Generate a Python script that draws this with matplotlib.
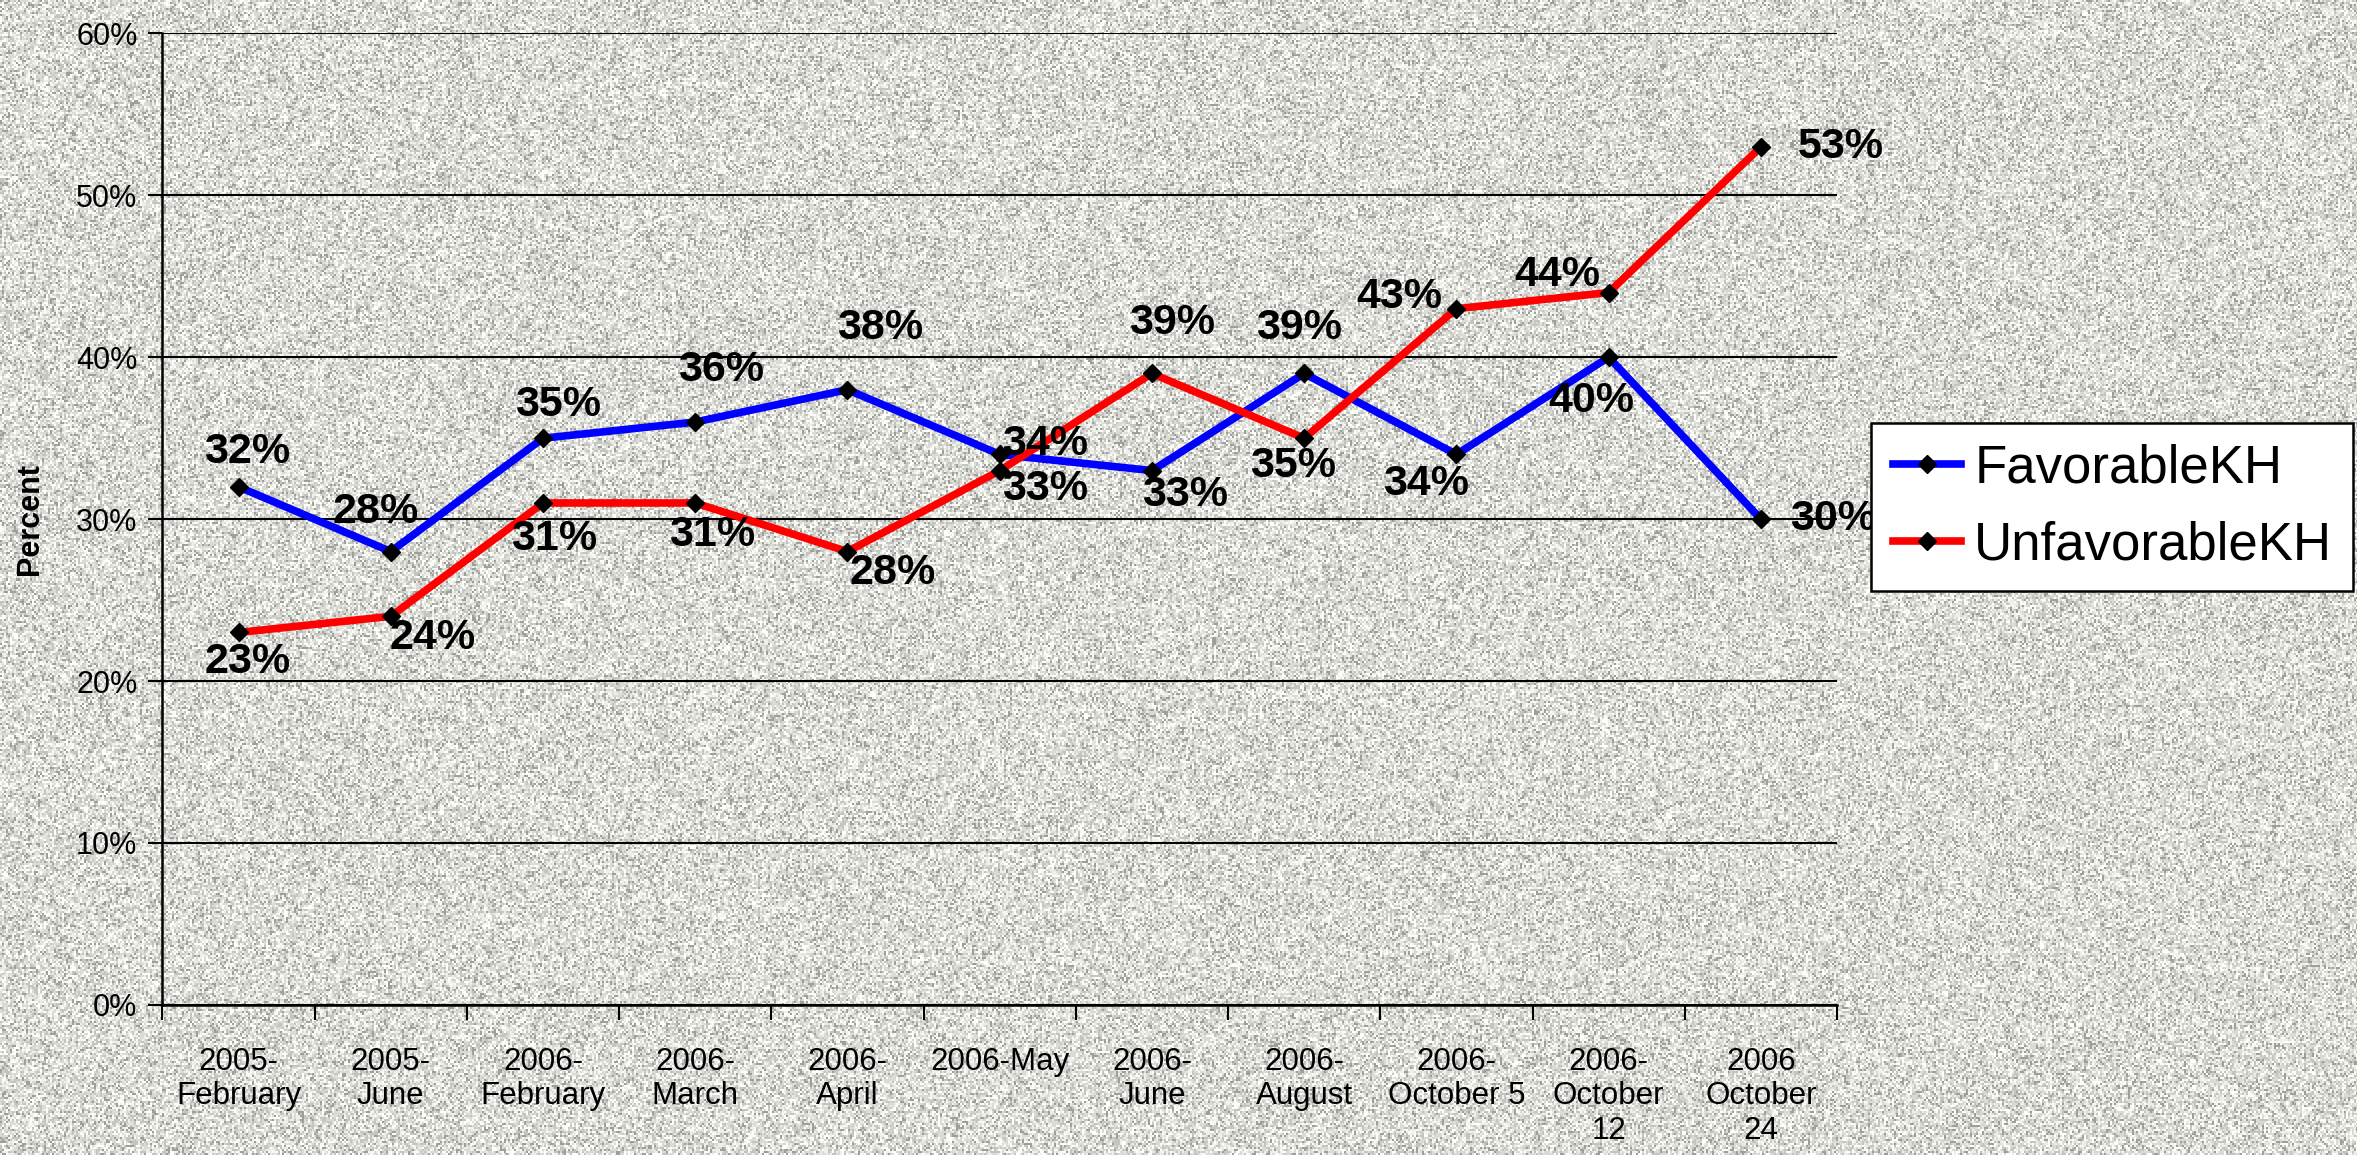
import numpy as np
import matplotlib
matplotlib.use("Agg")
import matplotlib.pyplot as plt

plt.rcParams['font.family'] = ['Liberation Sans', 'DejaVu Sans']

# survey waves
waves = ["2005-\nFebruary", "2005-\nJune", "2006-\nFebruary", "2006-\nMarch",
         "2006-\nApril", "2006-May", "2006-\nJune", "2006-\nAugust",
         "2006-\nOctober 5", "2006-\nOctober\n12", "2006\nOctober\n24"]
favorable = [32, 28, 35, 36, 38, 34, 33, 39, 34, 40, 30]
unfavorable = [23, 24, 31, 31, 28, 33, 39, 35, 43, 44, 53]
y_ticks = [0, 10, 20, 30, 40, 50, 60]

# label offsets (pixels) for the data labels
fav_off = [(9, 35), (-15, 40), (15, 33), (26, 52), (33, 62), (45, 10),
           (33, -24), (-5, 45), (-30, -30), (-17, -44), (72, 0)]
unf_off = [(9, -30), (42, -22), (11, -36), (17, -32), (45, -21), (45, -18),
           (20, 50), (-11, -28), (-57, 12), (-51, 18), (80, 0)]

W, H = 2357, 1155
fig = plt.figure(figsize=(W / 100, H / 100), dpi=100)
fig.patch.set_facecolor("#d6d6d6")

# grey textured backdrop
rng = np.random.default_rng(3)
tex = rng.choice([0.62, 0.77, 0.86, 0.94, 1.0], size=(H // 2, W // 2 + 1),
                 p=[0.12, 0.22, 0.28, 0.2, 0.18])
tex = np.kron(tex, np.ones((2, 2)))[:H, :W]
bg = fig.add_axes([0, 0, 1, 1], zorder=0)
bg.imshow(np.dstack([tex, tex, tex * 0.98]), aspect="auto", interpolation="nearest")
bg.axis("off")

ax = fig.add_axes([0.0689, 0.130, 0.7105, 0.841], zorder=2)
ax.patch.set_alpha(0)

x = np.arange(len(waves))
ax.plot(x, favorable, color="#0000ff", lw=5.5, marker="D", ms=9,
        mfc="black", mec="black", label="FavorableKH", zorder=3)
ax.plot(x, unfavorable, color="#ff0000", lw=5.5, marker="D", ms=9,
        mfc="black", mec="black", label="UnfavorableKH", zorder=3)

for xi, v, off in zip(x, favorable, fav_off):
    ax.annotate(f"{v}%", (xi, v), xytext=off, textcoords="offset pixels",
                ha="center", va="center", fontsize=31, fontweight="bold", zorder=4)
for xi, v, off in zip(x, unfavorable, unf_off):
    ax.annotate(f"{v}%", (xi, v), xytext=off, textcoords="offset pixels",
                ha="center", va="center", fontsize=31, fontweight="bold", zorder=4)

ax.set_xlim(-0.5, len(waves) - 0.5)
ax.set_ylim(0, 60)
ax.set_yticks(y_ticks)
ax.set_yticklabels([f"{t}%" for t in y_ticks], fontsize=22)
ax.set_xticks(x)
ax.set_xticklabels(waves, fontsize=22.5, va="top", linespacing=1.2)
ax.set_xticks(np.arange(-0.5, len(waves)), minor=True)
ax.tick_params(axis="x", which="major", length=0, pad=30)
ax.tick_params(axis="x", which="minor", length=11, width=1.5, direction="out")
ax.tick_params(axis="y", length=10, width=1.5, direction="out", pad=8)
ax.grid(axis="y", color="black", lw=1.5)
ax.set_axisbelow(True)
for s in ["top", "right"]:
    ax.spines[s].set_visible(False)
for s in ["left", "bottom"]:
    ax.spines[s].set_linewidth(1.8)

ax.set_ylabel("Percent", fontsize=22, fontweight="bold", labelpad=22)

leg = fig.legend(loc="center left", bbox_to_anchor=(0.794, 0.561),
                 fontsize=38, frameon=True, fancybox=False, framealpha=1,
                 edgecolor="black", handlelength=1.3, handletextpad=0.25,
                 borderpad=0.4, labelspacing=0.5, borderaxespad=0)
leg.get_frame().set_linewidth(1.8)
leg.set_zorder(5)

fig.savefig("out.png", dpi=100, facecolor=fig.get_facecolor())
